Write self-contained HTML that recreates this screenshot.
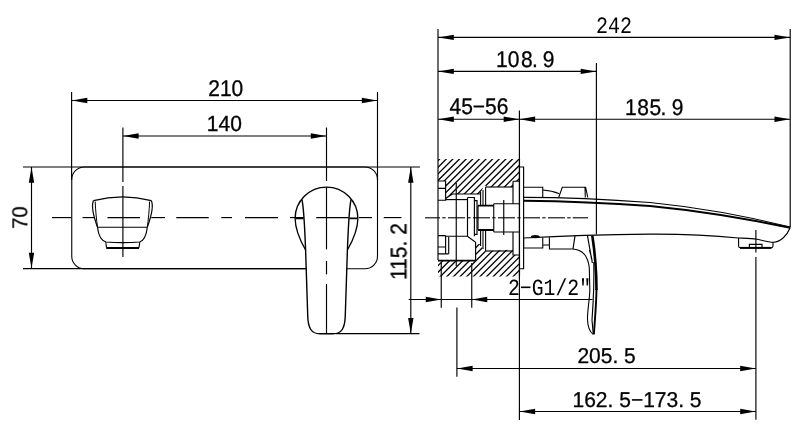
<!DOCTYPE html>
<html lang="en">
<head>
<meta charset="utf-8">
<title>Wall mounted basin mixer - dimension drawing</title>
<style>
html,body{margin:0;padding:0;background:#fff;}
body{width:800px;height:440px;overflow:hidden;}
svg{display:block;}
svg line, svg path{stroke:#000;fill:none;}
svg .a{fill:#000;stroke:none;}
svg text{fill:#000;stroke:none;text-anchor:start;text-rendering:geometricPrecision;}
#txt{opacity:0.999;}
.t1{font-family:"Liberation Sans",sans-serif;font-size:21px;stroke:#000;stroke-width:0.3px;}
.t2{font-family:"Liberation Mono",monospace;font-size:20px;}
.t3{font-family:"Liberation Mono",monospace;font-size:19.8px;}
</style>
</head>
<body>
<svg width="800" height="440" viewBox="0 0 800 440">
<rect x="0" y="0" width="800" height="440" fill="#fff" stroke="none"/>
<line x1="71.6" y1="92" x2="71.6" y2="180" stroke-width="1.15" />
<line x1="377.5" y1="92" x2="377.5" y2="180" stroke-width="1.15" />
<line x1="71.6" y1="100.5" x2="377.5" y2="100.5" stroke-width="1.15" />
<polygon class="a" points="71.8,100.5 87.3,97.8 87.3,103.2"/>
<polygon class="a" points="377.3,100.5 361.8,97.8 361.8,103.2"/>
<line x1="122.9" y1="127.5" x2="122.9" y2="182" stroke-width="1.15" />
<line x1="326.5" y1="127.5" x2="326.5" y2="181" stroke-width="1.15" />
<line x1="122.9" y1="136" x2="326.5" y2="136" stroke-width="1.15" />
<polygon class="a" points="123.1,136 138.6,133.3 138.6,138.7"/>
<polygon class="a" points="326.3,136 310.8,133.3 310.8,138.7"/>
<line x1="23" y1="167" x2="420" y2="167" stroke-width="1.15" />
<line x1="23" y1="268.6" x2="306.5" y2="268.6" stroke-width="1.15" />
<line x1="31.5" y1="167" x2="31.5" y2="268.6" stroke-width="1.15" />
<polygon class="a" points="31.5,167.3 28.8,182.8 34.2,182.8"/>
<polygon class="a" points="31.5,268.3 28.8,252.8 34.2,252.8"/>
<line x1="410.8" y1="167" x2="410.8" y2="333.65" stroke-width="1.15" />
<polygon class="a" points="410.8,167.3 408.1,182.8 413.5,182.8"/>
<polygon class="a" points="410.8,333.4 408.1,317.9 413.5,317.9"/>
<line x1="336" y1="333.65" x2="419.5" y2="333.65" stroke-width="1.15" />
<path d="M84.25,167 H365 A12.5,12.5 0 0 1 377.5,179.5 V256.25 A12.5,12.5 0 0 1 365,268.75 H346.3 M306.3,268.75 H84.25 A12.5,12.5 0 0 1 71.75,256.25 V179.5 A12.5,12.5 0 0 1 84.25,167" stroke-width="1.1" />
<line x1="52" y1="217.6" x2="71.25" y2="217.6" stroke-width="1.15" />
<line x1="82.5" y1="217.6" x2="95" y2="217.6" stroke-width="1.15" />
<line x1="107.5" y1="217.6" x2="140" y2="217.6" stroke-width="1.15" />
<line x1="151.25" y1="217.6" x2="165" y2="217.6" stroke-width="1.15" />
<line x1="176.25" y1="217.6" x2="208.75" y2="217.6" stroke-width="1.15" />
<line x1="221.25" y1="217.6" x2="232" y2="217.6" stroke-width="1.15" />
<line x1="245" y1="217.6" x2="278" y2="217.6" stroke-width="1.15" />
<line x1="290" y1="217.6" x2="303.75" y2="217.6" stroke-width="1.15" />
<line x1="316.25" y1="217.6" x2="348.75" y2="217.6" stroke-width="1.15" />
<line x1="359" y1="217.6" x2="372" y2="217.6" stroke-width="1.15" />
<line x1="383.75" y1="217.6" x2="401.5" y2="217.6" stroke-width="1.15" />
<line x1="122.9" y1="186" x2="122.9" y2="257" stroke-width="1.15" />
<path d="M93.5,200.6 Q122.5,193.3 151.3,200.6" stroke-width="1.2" />
<path d="M93.5,200.6 C91.5,205 93,215 97.5,227.25 M151.3,200.6 C153.3,205 151.8,215 147.3,227.25" stroke-width="1.2" />
<path d="M95.2,201.5 C95.5,210 96.5,220 97.5,227.25 M149.6,201.5 C149.3,210 148.3,220 147.3,227.25" stroke-width="1.0" />
<path d="M97.5,227.25 H147.3" stroke-width="1.1" />
<path d="M97.5,227.25 C98.5,236 101,240.5 106,242 Q122.5,243.2 139.6,242 C144.5,240.5 146.3,236 147.3,227.25" stroke-width="1.2" />
<path d="M105.8,242.2 L106.5,247.6 M139.8,242.2 L139,247.6" stroke-width="1.1" />
<path d="M106.2,248 H139" stroke-width="2.0" />
<path d="M295.1,218.5 A31.4,31.4 0 1 1 357.9,218.5" stroke-width="1.4" />
<path d="M295.1,218.5 C295.3,231 301,242 305.6,250 M357.9,218.5 C357.7,231 352,242 347.4,250" stroke-width="1.3" />
<path d="M301.9,199.5 C304,208 304.6,225 305.6,250 L307.7,315 C308,328 311,333.75 320,333.75 H333 C342,333.75 345,328 345.3,315 L347.4,250 C348.4,225 349,208 351.1,199.5" stroke-width="1.4" />
<path d="M295.3,218.4 H303.5 M349.5,218.4 H357.7" stroke-width="1.6" />
<line x1="326.5" y1="187" x2="326.5" y2="249.4" stroke-width="1.15" />
<line x1="326.5" y1="261" x2="326.5" y2="274.4" stroke-width="1.15" />
<line x1="326.5" y1="284" x2="326.5" y2="333.75" stroke-width="1.15" />
<line x1="438.0" y1="29" x2="438.0" y2="260" stroke-width="1.15" />
<line x1="790.2" y1="29" x2="790.2" y2="227" stroke-width="1.15" />
<line x1="438.0" y1="37.4" x2="790.2" y2="37.4" stroke-width="1.15" />
<polygon class="a" points="438.3,37.4 453.8,34.699999999999996 453.8,40.1"/>
<polygon class="a" points="790,37.4 774.5,34.699999999999996 774.5,40.1"/>
<line x1="596.4" y1="63" x2="596.4" y2="234.5" stroke-width="1.15" />
<line x1="438.0" y1="71.4" x2="596.4" y2="71.4" stroke-width="1.15" />
<polygon class="a" points="438.3,71.4 453.8,68.7 453.8,74.10000000000001"/>
<polygon class="a" points="596.2,71.4 580.7,68.7 580.7,74.10000000000001"/>
<line x1="519.4" y1="110.5" x2="519.4" y2="420" stroke-width="1.15" />
<line x1="438.0" y1="119.25" x2="790.2" y2="119.25" stroke-width="1.15" />
<polygon class="a" points="438.3,119.25 453.8,116.55 453.8,121.95"/>
<polygon class="a" points="519.2,119.25 503.70000000000005,116.55 503.70000000000005,121.95"/>
<polygon class="a" points="519.6,119.25 535.1,116.55 535.1,121.95"/>
<polygon class="a" points="790,119.25 774.5,116.55 774.5,121.95"/>
<line x1="456.9" y1="307.4" x2="456.9" y2="376.75" stroke-width="1.15" />
<line x1="456.9" y1="368.5" x2="755.9" y2="368.5" stroke-width="1.15" />
<polygon class="a" points="457.1,368.5 472.6,365.8 472.6,371.2"/>
<polygon class="a" points="755.7,368.5 740.2,365.8 740.2,371.2"/>
<line x1="519.4" y1="411.5" x2="755.9" y2="411.5" stroke-width="1.15" />
<polygon class="a" points="519.6,411.5 535.1,408.8 535.1,414.2"/>
<polygon class="a" points="755.7,411.5 740.2,408.8 740.2,414.2"/>
<line x1="755.9" y1="257" x2="755.9" y2="419.75" stroke-width="1.15" />
<line x1="755.9" y1="230" x2="755.9" y2="252.5" stroke-width="1.15" />
<line x1="408.75" y1="299.5" x2="592.5" y2="299.5" stroke-width="1.15" />
<polygon class="a" points="441.25,299.5 425.75,296.8 425.75,302.2"/>
<polygon class="a" points="471.75,299.5 487.25,296.8 487.25,302.2"/>
<line x1="441.25" y1="263" x2="441.25" y2="307.7" stroke-width="1.15" />
<line x1="471.75" y1="263" x2="471.75" y2="307.7" stroke-width="1.15" />
<g id="txt">
<text class="t1" transform="translate(208.2,95.5) scale(1,1.075)">210</text>
<text class="t1" transform="translate(206.8,130.7) scale(1,1.045)">140</text>
<text class="t1" transform="translate(26.8,228.9) rotate(-90) scale(0.97,1.03)">70</text>
<text class="t1" transform="translate(406.8,280) rotate(-90) scale(1,1.075)">115. 2</text>
<text class="t2" transform="translate(596.1,32.5) scale(1,1.17)">242</text>
<text class="t1" dx="0 0 1.6 -0.6 0 -1" transform="translate(496,67) scale(1,1.075)">108. 9</text>
<text class="t1" transform="translate(449.5,114.2) scale(1,1.075)">45−56</text>
<text class="t1" dx="0 0.5 0.5 -0.5 0 -0.5" transform="translate(625,114.8) scale(1,1.075)">185. 9</text>
<text class="t3" transform="translate(508,294.5) scale(1,1.17)">2−G1/2"</text>
<text class="t1" transform="translate(577.4,362.9) scale(1,1.02)">205. 5</text>
<text class="t1" transform="translate(572.5,406.6) scale(1,1.02)">162. 5−173. 5</text>
</g>
<clipPath id="hu"><polygon points="438.0,158.9 519.5,158.9 519.5,181.2 513,181.2 513,187 486,187 484.5,184 480.3,194 452.5,194 445.6,198.6 445.6,181 438.0,181"/></clipPath>
<path d="M399.08,199.60L440.78,157.90M405.70,199.60L447.40,157.90M412.32,199.60L454.02,157.90M418.94,199.60L460.64,157.90M425.56,199.60L467.26,157.90M432.18,199.60L473.88,157.90M438.80,199.60L480.50,157.90M445.42,199.60L487.12,157.90M452.04,199.60L493.74,157.90M458.66,199.60L500.36,157.90M465.28,199.60L506.98,157.90M471.90,199.60L513.60,157.90M478.52,199.60L520.22,157.90M485.14,199.60L526.84,157.90M491.76,199.60L533.46,157.90M498.38,199.60L540.08,157.90M505.00,199.60L546.70,157.90M511.62,199.60L553.32,157.90M518.24,199.60L559.94,157.90" stroke-width="1.3" clip-path="url(#hu)"/>
<clipPath id="hl"><polygon points="475.6,242.5 480.6,244.4 485,251.25 512.8,249.6 512.8,255 519.5,255 519.5,276.5 438.0,276.5 438.0,260.6 475.6,260.6"/></clipPath>
<path d="M406.25,277.50L442.25,241.50M412.87,277.50L448.87,241.50M419.49,277.50L455.49,241.50M426.11,277.50L462.11,241.50M432.73,277.50L468.73,241.50M439.35,277.50L475.35,241.50M445.97,277.50L481.97,241.50M452.59,277.50L488.59,241.50M459.21,277.50L495.21,241.50M465.83,277.50L501.83,241.50M472.45,277.50L508.45,241.50M479.07,277.50L515.07,241.50M485.69,277.50L521.69,241.50M492.31,277.50L528.31,241.50M498.93,277.50L534.93,241.50M505.55,277.50L541.55,241.50M512.17,277.50L548.17,241.50" stroke-width="1.3" clip-path="url(#hl)"/>
<line x1="425" y1="217.8" x2="440" y2="217.8" stroke-width="1.1" />
<line x1="442.25" y1="217.8" x2="445.6" y2="217.8" stroke-width="1.1" />
<line x1="448" y1="217.8" x2="465" y2="217.8" stroke-width="1.1" />
<line x1="467.25" y1="217.8" x2="470.6" y2="217.8" stroke-width="1.1" />
<line x1="473" y1="217.8" x2="490" y2="217.8" stroke-width="1.1" />
<line x1="492.25" y1="217.8" x2="495.6" y2="217.8" stroke-width="1.1" />
<line x1="498" y1="217.8" x2="515" y2="217.8" stroke-width="1.1" />
<line x1="517.25" y1="217.8" x2="520.6" y2="217.8" stroke-width="1.1" />
<line x1="523" y1="217.8" x2="540" y2="217.8" stroke-width="1.1" />
<line x1="542.25" y1="217.8" x2="545.6" y2="217.8" stroke-width="1.1" />
<line x1="548" y1="217.8" x2="565" y2="217.8" stroke-width="1.1" />
<line x1="567.25" y1="217.8" x2="570.6" y2="217.8" stroke-width="1.1" />
<line x1="572.75" y1="217.8" x2="588" y2="217.8" stroke-width="1.1" />
<path d="M438.0,181 H445.6 V200.2 H438.0 M438.0,188.3 H445.6" stroke-width="1.15" />
<path d="M445.6,198.6 L452.5,194 H480.3" stroke-width="1.15" />
<path d="M445.6,199.6 H467.5" stroke-width="1.15" />
<path d="M438.0,235.6 H445.6 M438.0,247 H445.6 M438.0,253.8 H448.7 M445.6,235.6 V253.8 M448.7,237 V253.8" stroke-width="1.15" />
<path d="M445.6,236.2 H467.5 L475.6,242.3 V260" stroke-width="1.15" />
<path d="M438.0,260.6 H475.8" stroke-width="1.8" />
<line x1="456.25" y1="183" x2="456.25" y2="266" stroke-width="1.15" />
<path d="M480.6,192 V205 M480.6,231 V246 M485.6,187 V205 M485.6,231 V251" stroke-width="1.1" />
<path d="M483,190 V205 M483,231 V249" stroke-width="1.6" style="stroke:#555"/>
<path d="M486,187 H513" stroke-width="1.15" />
<path d="M467.5,197.5 H474.4 V236.2 M467.5,197.5 V236.2 M474.4,200.6 H477 V234.4 H474.4" stroke-width="1.15" />
<path d="M478,205.6 H493.75 M478,230 H493.75" stroke-width="1.8" />
<path d="M478,205.6 V230" stroke-width="1.15" />
<path d="M493.75,203.75 H519.5 M493.75,232 H519.5 M493.75,203.75 V232" stroke-width="1.1" />
<line x1="503.75" y1="200" x2="503.75" y2="235" stroke-width="1.15" />
<path d="M513,181.2 H519.5 M513,181.2 V203.75 M513,232 V255 H519.5" stroke-width="1.15" />
<path d="M519.5,167 H523.6 V268.75 H519.5" stroke-width="1.15" />
<line x1="519.5" y1="158.5" x2="519.5" y2="276.5" stroke-width="1.15" />
<path d="M486,251 H513" stroke-width="1.15" />
<path d="M523.6,187.3 H542.75 V197.3" stroke-width="1.1" />
<path d="M542.75,190 Q552,190.5 559.3,193.8" stroke-width="1.15" />
<path d="M558.75,197.3 L562.3,187.3 H585.6 L587.8,197.5 M585,187.3 L585.3,197.5" stroke-width="1.1" />
<path d="M523.6,197.3 C560,197.3 600,198.6 650,202.5 C700,207.5 750,217 790.2,227" stroke-width="1.15" />
<path d="M523.6,200.8 C560,201.2 600,202.4 650,206 C700,210.8 750,219.4 790.2,227.8" stroke-width="1.9" />
<path d="M523.6,238 C560,236 600,234.6 650,234.1 C690,233.9 715,235.6 738.6,238 C748,238.3 752,238.3 757,239.2 C763,240.4 768,242.4 773.5,242.3 C780,242 787,236 790.2,227.5" stroke-width="1.15" />
<path d="M738.6,238 V246 Q738.6,247.75 740.5,247.75 H771 Q773,247.75 773,246 V242.3" stroke-width="1.1" />
<path d="M740,247.9 H771.5" stroke-width="2.0" />
<path d="M749.4,247.5 V244.4 H762 V247.5" stroke-width="1.15" />
<path d="M523.6,238 V248 H542.75 V237.5 M542.75,245 H549.4 M549.4,237.3 V249 H572.5 C582,249.5 588,255 589.3,268 L589.8,290 C589.6,300 587.4,310 587.5,318.75 C587.6,326 590,332 593.3,334.4" stroke-width="1.1" />
<path d="M575,235.8 L573,248.8" stroke-width="1.15" />
<path d="M587.5,235.6 C589,245 590.5,252 591.5,259 M589.4,250 C591,255 592,259 592.3,263" stroke-width="1.15" />
<path d="M592.3,235.5 C594.5,250 596.5,270 596.5,290" stroke-width="2.6" />
<path d="M596.5,289 C596.3,305 594.8,320 593.9,334.4" stroke-width="1.9" />
<path d="M593.8,262 C594.2,280 593.5,300 592,320 L593.3,334.4" stroke-width="1.15" />
<ellipse cx="535.3" cy="236.6" rx="4.4" ry="1.7" fill="#000" stroke="none"/>
</svg>
</body>
</html>
